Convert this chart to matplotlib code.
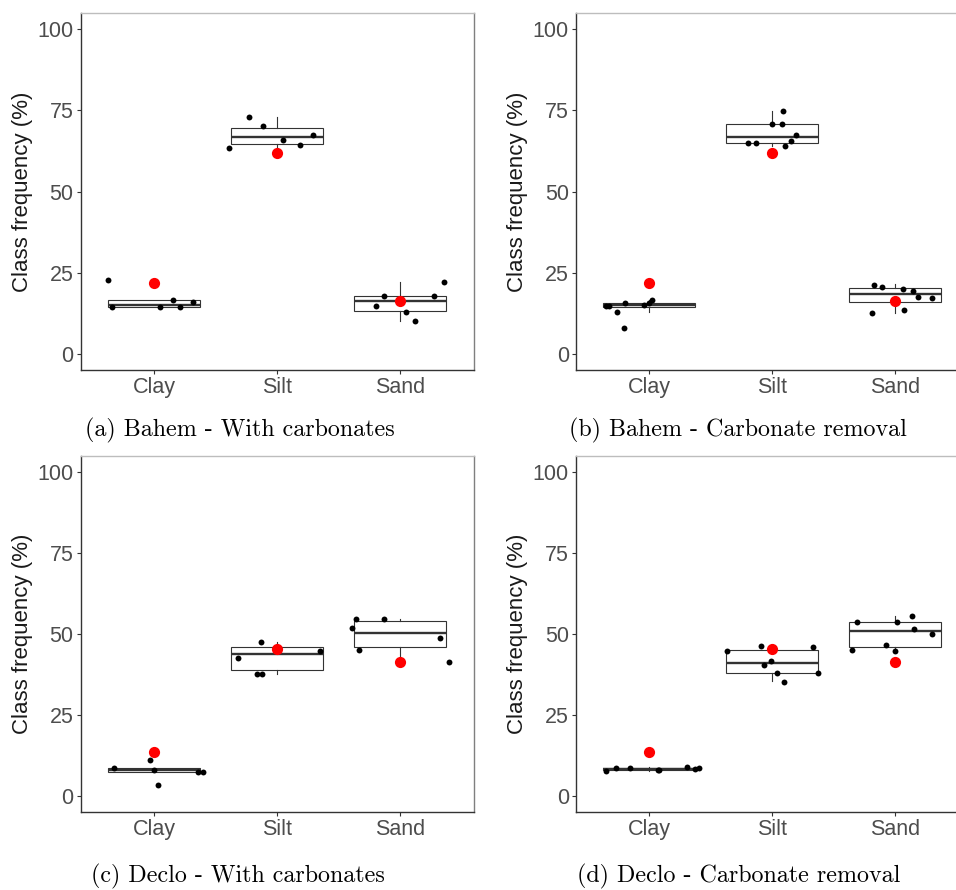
import matplotlib
matplotlib.use("Agg")
import matplotlib.pyplot as plt

# categories
classes = ["Clay", "Silt", "Sand"]
captions = ["(a) Bahem - With carbonates", "(b) Bahem - Carbonate removal",
            "(c) Declo - With carbonates", "(d) Declo - Carbonate removal"]

# reference value (red dot) per class
bahem_ref = [21.7, 61.9, 16.4]
declo_ref = [13.4, 45.3, 41.2]

# box stats per class: whislo, q1, med, q3, whishi
bahem_with_box = [[14.5, 14.5, 15.0, 16.5, 16.5],
                  [63.3, 64.6, 66.7, 69.5, 73.0],
                  [10.2, 13.3, 16.4, 17.9, 22.0]]
bahem_rem_box = [[12.8, 14.3, 15.0, 15.5, 16.6],
                 [63.9, 64.8, 66.8, 70.9, 74.7],
                 [12.5, 16.0, 18.4, 20.2, 21.4]]
declo_with_box = [[7.4, 7.4, 8.1, 8.5, 8.5],
                  [37.7, 39.0, 43.7, 45.9, 47.4],
                  [41.2, 45.9, 50.4, 53.9, 54.6]]
declo_rem_box = [[7.8, 8.1, 8.4, 8.7, 8.8],
                 [35.4, 37.8, 41.0, 45.1, 46.4],
                 [44.3, 46.1, 50.8, 53.7, 55.7]]

# sample values per class
bahem_with_pts = [[22.7, 14.5, 14.5, 16.5, 14.5, 15.9],
                  [73.0, 70.3, 63.3, 66.0, 64.2, 67.3],
                  [17.9, 14.8, 12.9, 10.2, 17.7, 22.1]]
bahem_rem_pts = [[14.8, 14.8, 12.8, 7.8, 15.7, 15.1, 15.7, 16.6],
                 [74.8, 70.9, 70.9, 67.4, 65.7, 63.9, 64.9, 64.8],
                 [21.3, 20.7, 19.9, 19.2, 17.6, 17.1, 12.5, 13.4]]
declo_with_pts = [[8.5, 11.1, 8.1, 3.4, 7.5, 7.5],
                  [47.4, 42.7, 44.6, 37.6, 37.6],
                  [54.6, 54.6, 51.7, 45.0, 48.9, 41.2]]
declo_rem_pts = [[7.8, 8.6, 8.5, 8.1, 8.1, 8.8, 8.2, 8.7],
                 [44.8, 46.4, 45.9, 41.6, 40.4, 37.9, 35.3, 37.8],
                 [55.7, 53.7, 53.7, 51.4, 50.1, 45.1, 46.5, 44.6]]

# horizontal jitter
bahem_with_jit = [[-0.38, -0.34, 0.05, 0.15, 0.21, 0.32],
                  [-0.225, -0.11, -0.39, 0.05, 0.19, 0.29],
                  [-0.13, -0.19, 0.05, 0.12, 0.28, 0.36]]
bahem_rem_jit = [[-0.35, -0.33, -0.26, -0.21, -0.20, -0.04, 0.0, 0.02],
                 [0.09, 0.0, 0.08, 0.195, 0.155, 0.105, -0.195, -0.13],
                 [-0.17, -0.105, 0.065, 0.15, 0.19, 0.30, -0.19, 0.07]]
declo_with_jit = [[-0.33, -0.035, 0.0, 0.03, 0.36, 0.40],
                  [-0.13, -0.315, 0.35, -0.165, -0.125],
                  [-0.355, -0.125, -0.39, -0.33, 0.33, 0.40]]
declo_rem_jit = [[-0.35, -0.27, -0.16, 0.07, 0.075, 0.31, 0.37, 0.40],
                 [-0.37, -0.095, 0.33, -0.01, -0.065, 0.04, 0.10, 0.37],
                 [0.14, -0.31, 0.02, 0.155, 0.30, -0.35, -0.07, 0.0]]

panels = [(bahem_with_box, bahem_with_pts, bahem_with_jit, bahem_ref),
          (bahem_rem_box, bahem_rem_pts, bahem_rem_jit, bahem_ref),
          (declo_with_box, declo_with_pts, declo_with_jit, declo_ref),
          (declo_rem_box, declo_rem_pts, declo_rem_jit, declo_ref)]

W, H = 956, 890
fig = plt.figure(figsize=(W / 100, H / 100), dpi=100)

# pixel boxes: left, top, width, height
ax_px = [(80.5, 13, 393, 357), (575.7, 13, 393, 357),
         (80.5, 456, 393, 356), (575.7, 456, 393, 356)]
cap_pos = [(240, 430), (738, 430), (238, 876), (739, 876)]

dark = "#333333"
for i, (boxes, pts, jit, ref) in enumerate(panels):
    l, t, w, h = ax_px[i]
    ax = fig.add_axes([l / W, 1 - (t + h) / H, w / W, h / H])
    stats = []
    for b in boxes:
        stats.append({"whislo": b[0], "q1": b[1], "med": b[2], "q3": b[3], "whishi": b[4]})
    ax.bxp(stats, positions=[1, 2, 3], widths=0.75, showcaps=False, showfliers=False,
           patch_artist=True,
           boxprops=dict(facecolor="white", edgecolor=dark, linewidth=0.8),
           medianprops=dict(color=dark, linewidth=1.7),
           whiskerprops=dict(color=dark, linewidth=0.8), zorder=1)
    for k in range(3):
        xs = [k + 1 + j for j in jit[k]]
        ax.scatter(xs, pts[k], s=18, color="black", zorder=3, linewidths=0)
    ax.scatter([1, 2, 3], ref, s=65, color="red", zorder=4, linewidths=0)

    ax.set_xlim(0.4, 3.6)
    ax.set_ylim(-5, 105)
    ax.set_yticks([0, 25, 50, 75, 100])
    ax.set_xticks([1, 2, 3])
    ax.set_xticklabels(classes)
    ax.tick_params(axis="both", length=3, width=0.8, color=dark, labelcolor="#4D4D4D",
                   labelsize=15.5, pad=2)
    for lab in ax.get_xticklabels() + ax.get_yticklabels():
        lab.set_fontfamily("Liberation Sans")
    ax.set_ylabel("Class frequency (%)", fontsize=16, fontfamily="Liberation Sans",
                  color="#1A1A1A", labelpad=3)
    ax.spines["left"].set_color(dark)
    ax.spines["bottom"].set_color(dark)
    ax.spines["top"].set_color("#BDBDBD")
    ax.spines["right"].set_color("#7F7F7F")
    for s in ax.spines.values():
        s.set_linewidth(1.0)

    cx, cy = cap_pos[i]
    fig.text(cx / W, 1 - cy / H, captions[i], ha="center", va="center",
             fontsize=17.3, fontfamily="cmr10")

fig.savefig("out.png", dpi=100, facecolor="white")
